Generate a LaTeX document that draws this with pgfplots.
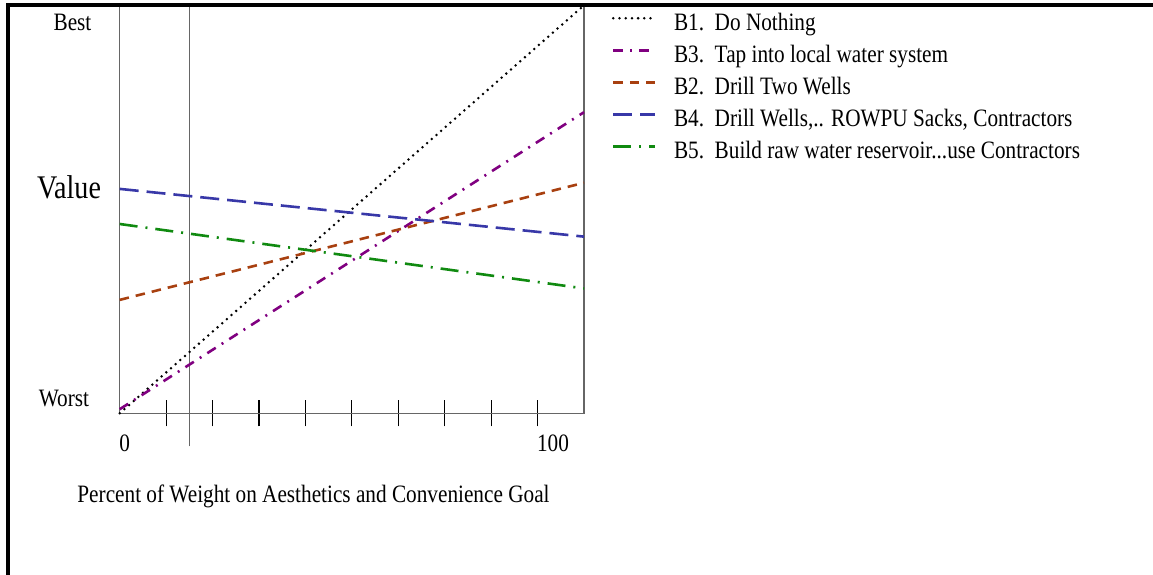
\documentclass[border=0pt]{standalone}
\usepackage{fontspec}
\setmainfont{Liberation Serif}[FakeStretch=0.85]
\usepackage{pgfplots}
\pgfplotsset{compat=1.18}
\definecolor{cB3}{HTML}{800080}
\definecolor{cB2}{HTML}{A84010}
\definecolor{cB4}{HTML}{3838A8}
\definecolor{cB5}{HTML}{108A10}
\begin{document}
\begin{tikzpicture}[x=1pt,y=1pt]
\begin{axis}[
  at={(119.7pt,161.7pt)}, anchor=south west,
  scale only axis, width=464.3pt, height=408pt,
  xmin=0, xmax=100, ymin=0, ymax=1,
  xtick={10,20,...,90}, xticklabels={}, ytick=\empty,
  xtick pos=bottom, tick align=center, major tick length=26pt,
  tick style={black, line width=1.2pt},
  axis line style={draw=black!60, line width=1.5pt},
  clip=false,
  legend cell align=left,
  legend image code/.code={\draw[#1] (0pt,6.5pt) -- (41.6pt,6.5pt);},
  legend style={draw=none, fill=none, at={(1.0597,0.981)}, anchor=north west,
    inner sep=0pt, row sep=9.1pt,
    font=\fontsize{25}{30}\selectfont,
    nodes={inner sep=0pt, text height=17pt, text depth=6pt},
    /tikz/every odd column/.append style={column sep=17.7pt}},
]
\addplot[forget plot, black!60, line width=1.5pt] coordinates {(15,-0.081) (15,1)};
\addplot[black, line width=2.8pt, line cap=round, dash pattern=on 0pt off 6.2pt] coordinates {(0,0) (100,1)};
\addlegendentry{B1.\ \ Do Nothing}
\addplot[cB3, line width=2.6pt, dash pattern=on 10pt off 7pt on 2pt off 7pt] coordinates {(0,0.01) (100,0.738)};
\addlegendentry{B3.\ \ Tap into local water system}
\addplot[cB2, line width=2.6pt, dash pattern=on 9.5pt off 7pt] coordinates {(0,0.278) (100,0.565)};
\addlegendentry{B2.\ \ Drill Two Wells}
\addplot[cB4, line width=2.6pt, dash pattern=on 19pt off 8pt] coordinates {(0,0.550) (100,0.433)};
\addlegendentry{B4.\ \ Drill Wells,.. ROWPU Sacks, Contractors}
\addplot[cB5, line width=2.6pt, dash pattern=on 18pt off 8pt on 2pt off 8pt] coordinates {(0,0.464) (100,0.306)};
\addlegendentry{B5.\ \ Build raw water reservoir...use Contractors}
\end{axis}
\begin{scope}[every node/.style={inner sep=0pt, anchor=base, font=\fontsize{25}{30}\selectfont}]
\node at (72.5,544) {Best};
\node at (64,168) {Worst};
\node[font=\fontsize{33}{40}\selectfont] at (69,376.7) {Value};
\node at (124.7,123.3) {0};
\node at (553,123.3) {100};
\node at (313.5,72.3) {Percent of Weight on Aesthetics and Convenience Goal};
\end{scope}
\draw[line width=4pt] (8,0) -- (8,569.7);
\draw[line width=4pt] (6,569.7) -- (1153,569.7);
\pgfresetboundingbox
\path[use as bounding box] (0,0) rectangle (1153,575);
\end{tikzpicture}
\end{document}
